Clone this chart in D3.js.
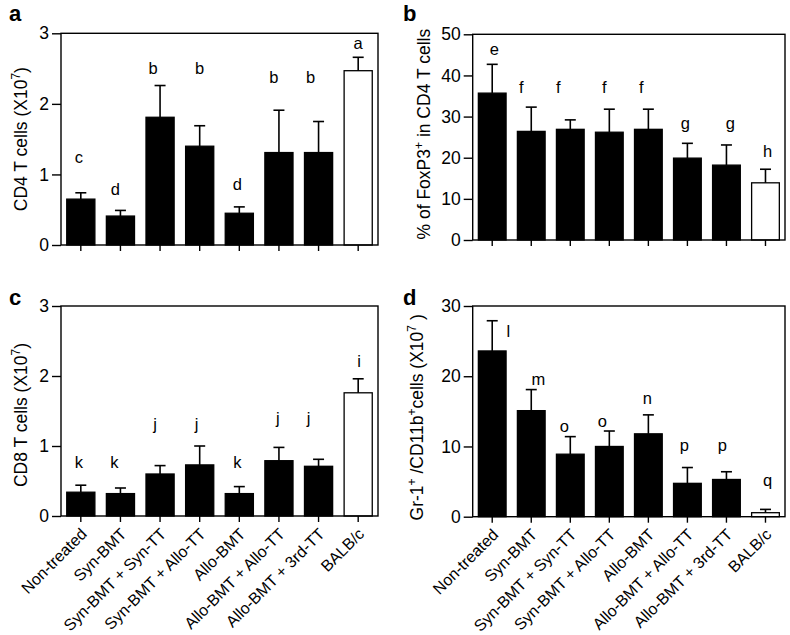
<!doctype html>
<html>
<head>
<meta charset="utf-8">
<script src="https://cdnjs.cloudflare.com/ajax/libs/d3/7.8.5/d3.min.js"></script>
<style>
  body { margin: 0; background: #fff; }
  svg { font-family: "Liberation Sans", Arial, Helvetica, sans-serif; }
  .frame { fill: none; stroke: #000; stroke-width: 1.4; }
  .tick line { stroke: #000; stroke-width: 1.4; }
  .domain { display: none; }
</style>
</head>
<body>
<svg id="chart" width="790" height="635"></svg>
<script>
// groups on the x axis
const groups = ["Non-treated", "Syn-BMT", "Syn-BMT + Syn-TT", "Syn-BMT + Allo-TT",
                "Allo-BMT", "Allo-BMT + Allo-TT", "Allo-BMT + 3rd-TT", "BALB/c"];

// a: CD4 T cells (x10^7)
const cd4Mean = [0.65, 0.41, 1.81, 1.40, 0.45, 1.31, 1.31, 2.47];
const cd4Sd   = [0.09, 0.08, 0.45, 0.29, 0.09, 0.60, 0.44, 0.19];
const cd4Sig  = ["c", "d", "b", "b", "d", "b", "b", "a"];
const cd4SigY = [1.16, 0.71, 2.42, 2.42, 0.78, 2.29, 2.29, 2.78];

// b: % FoxP3+ in CD4 T cells
const foxMean = [35.7, 26.4, 26.9, 26.2, 26.9, 19.9, 18.2, 13.9];
const foxSd   = [7.0, 5.9, 2.3, 5.6, 4.9, 3.6, 4.9, 3.3];
const foxSig  = ["e", "f", "f", "f", "f", "g", "g", "h"];
const foxSigY = [45, 35.7, 35.7, 35.7, 35.7, 27.1, 27.1, 20.2];

// c: CD8 T cells (x10^7)
const cd8Mean = [0.34, 0.32, 0.60, 0.73, 0.32, 0.79, 0.71, 1.76];
const cd8Sd   = [0.10, 0.08, 0.12, 0.27, 0.10, 0.19, 0.10, 0.20];
const cd8Sig  = ["k", "k", "j", "j", "k", "j", "j", "i"];
const cd8SigY = [0.68, 0.68, 1.23, 1.23, 0.68, 1.32, 1.32, 2.13];

// d: Gr-1+/CD11b+ cells (x10^7)
const grMean = [23.6, 15.1, 8.9, 10.0, 11.8, 4.75, 5.3, 0.57];
const grSd   = [4.3, 3.0, 2.5, 2.2, 2.7, 2.25, 1.1, 0.47];
const grSig  = ["l", "m", "o", "o", "n", "p", "p", "q"];
const grSigY = [25.6, 18.7, 12.1, 12.8, 16.1, 9.3, 9.3, 4.3];

const yTicksA = [0, 1, 2, 3];
const yTicksB = [0, 10, 20, 30, 40, 50];
const yTicksC = [0, 1, 2, 3];
const yTicksD = [0, 10, 20, 30];

// letter nudges (px) so the letters sit like in the figure
const nudgeA = [-2, -5, -7, 0, -2, -5, -8, 0];
const nudgeB = [2, -10, -12, -5, -7, -2, 4, 2];
const nudgeC = [-2, -6, -5, -3, -2, -1, -10, 1];
const nudgeD = [16, 7, -6, -7, -1, -3, -4, 2];

const svg = d3.select("#chart");

function panel(opt) {
  const g = svg.append("g");
  const x = d3.scaleBand().domain(groups)
    .range([opt.x0, opt.x1]).paddingInner(0.29).paddingOuter(0.145);
  const y = d3.scaleLinear().domain([0, opt.max]).range([opt.y1, opt.y0]);

  // y axis
  g.append("g").attr("transform", `translate(${opt.x0},0)`)
    .call(d3.axisLeft(y).tickValues(opt.ticks).tickFormat(d3.format("d"))
      .tickSize(9).tickPadding(3))
    .call(s => s.selectAll("text").attr("font-size", 17.5).attr("fill", "#000")
      .attr("font-family", "Liberation Sans, Arial, sans-serif"));

  // x axis
  const xa = g.append("g").attr("transform", `translate(0,${opt.y1})`)
    .call(d3.axisBottom(x).tickSize(6).tickFormat(""));
  if (opt.labels) {
    xa.selectAll(".tick").append("text")
      .text(d => d)
      .attr("fill", "#000")
      .attr("font-size", 16)
      .attr("font-family", "Liberation Sans, Arial, sans-serif")
      .attr("text-anchor", "end")
      .attr("transform", "translate(7,19) rotate(-45)");
  }

  // bars
  g.selectAll("rect.bar").data(opt.mean).enter().append("rect")
    .attr("class", "bar")
    .attr("x", (d, i) => x(groups[i]))
    .attr("width", x.bandwidth())
    .attr("y", d => y(d))
    .attr("height", d => opt.y1 - y(d))
    .attr("fill", (d, i) => i === groups.length - 1 ? "#fff" : "#000")
    .attr("stroke", "#000")
    .attr("stroke-width", 1.3);

  // error bars (upper only)
  const cap = 5.5;
  opt.mean.forEach((m, i) => {
    const cx = x(groups[i]) + x.bandwidth() / 2;
    g.append("line").attr("x1", cx).attr("x2", cx)
      .attr("y1", y(m)).attr("y2", y(m + opt.sd[i]))
      .attr("stroke", "#000").attr("stroke-width", 1.6);
    g.append("line").attr("x1", cx - cap).attr("x2", cx + cap)
      .attr("y1", y(m + opt.sd[i])).attr("y2", y(m + opt.sd[i]))
      .attr("stroke", "#000").attr("stroke-width", 1.6);
  });

  // significance letters
  g.selectAll("text.sig").data(opt.sig).enter().append("text")
    .attr("class", "sig")
    .attr("x", (d, i) => x(groups[i]) + x.bandwidth() / 2 + opt.nudge[i])
    .attr("y", (d, i) => y(opt.sigY[i]))
    .attr("text-anchor", "middle")
    .attr("font-size", 16.5)
    .text(d => d);

  // frame
  g.append("rect").attr("class", "frame")
    .attr("x", opt.x0).attr("y", opt.y0)
    .attr("width", opt.x1 - opt.x0).attr("height", opt.y1 - opt.y0);

  // panel letter
  g.append("text").attr("x", opt.lx).attr("y", opt.ly)
    .attr("font-size", 22).attr("font-weight", "bold").text(opt.letter);

  // y title
  const t = g.append("text")
    .attr("transform", `translate(${opt.tx},${(opt.y0 + opt.y1) / 2 + opt.tdy}) rotate(-90)`)
    .attr("text-anchor", "middle").attr("font-size", 17.5);
  opt.title.forEach(p => {
    const s = t.append("tspan").text(p[0]);
    if (p[1] === "sup") s.attr("font-size", 12).attr("baseline-shift", "super");
  });
}

panel({ x0: 61, x1: 378, y0: 33.3, y1: 245, max: 3, ticks: yTicksA,
  mean: cd4Mean, sd: cd4Sd, sig: cd4Sig, sigY: cd4SigY, nudge: nudgeA,
  letter: "a", lx: 9, ly: 21, tx: 27, tdy: 0,
  title: [["CD4 T cells (X10"], ["7", "sup"], [")"]] });

panel({ x0: 472.7, x1: 785, y0: 34.3, y1: 240, max: 50, ticks: yTicksB,
  mean: foxMean, sd: foxSd, sig: foxSig, sigY: foxSigY, nudge: nudgeB,
  letter: "b", lx: 403, ly: 21, tx: 430, tdy: -3,
  title: [["% of FoxP3"], ["+", "sup"], [" in CD4 T cells"]] });

panel({ x0: 61, x1: 378, y0: 306, y1: 516, max: 3, ticks: yTicksC,
  mean: cd8Mean, sd: cd8Sd, sig: cd8Sig, sigY: cd8SigY, nudge: nudgeC,
  letter: "c", lx: 9, ly: 305, tx: 27, tdy: 4, labels: true,
  title: [["CD8 T  cells (X10"], ["7", "sup"], [")"]] });

panel({ x0: 472.7, x1: 785, y0: 306, y1: 516.7, max: 30, ticks: yTicksD,
  mean: grMean, sd: grSd, sig: grSig, sigY: grSigY, nudge: nudgeD,
  letter: "d", lx: 403, ly: 305, tx: 423, tdy: 6, labels: true,
  title: [["Gr-1"], ["+", "sup"], [" /CD11b"], ["+", "sup"], ["cells (X10"], ["7", "sup"], [" )"]] });
</script>
</body>
</html>
